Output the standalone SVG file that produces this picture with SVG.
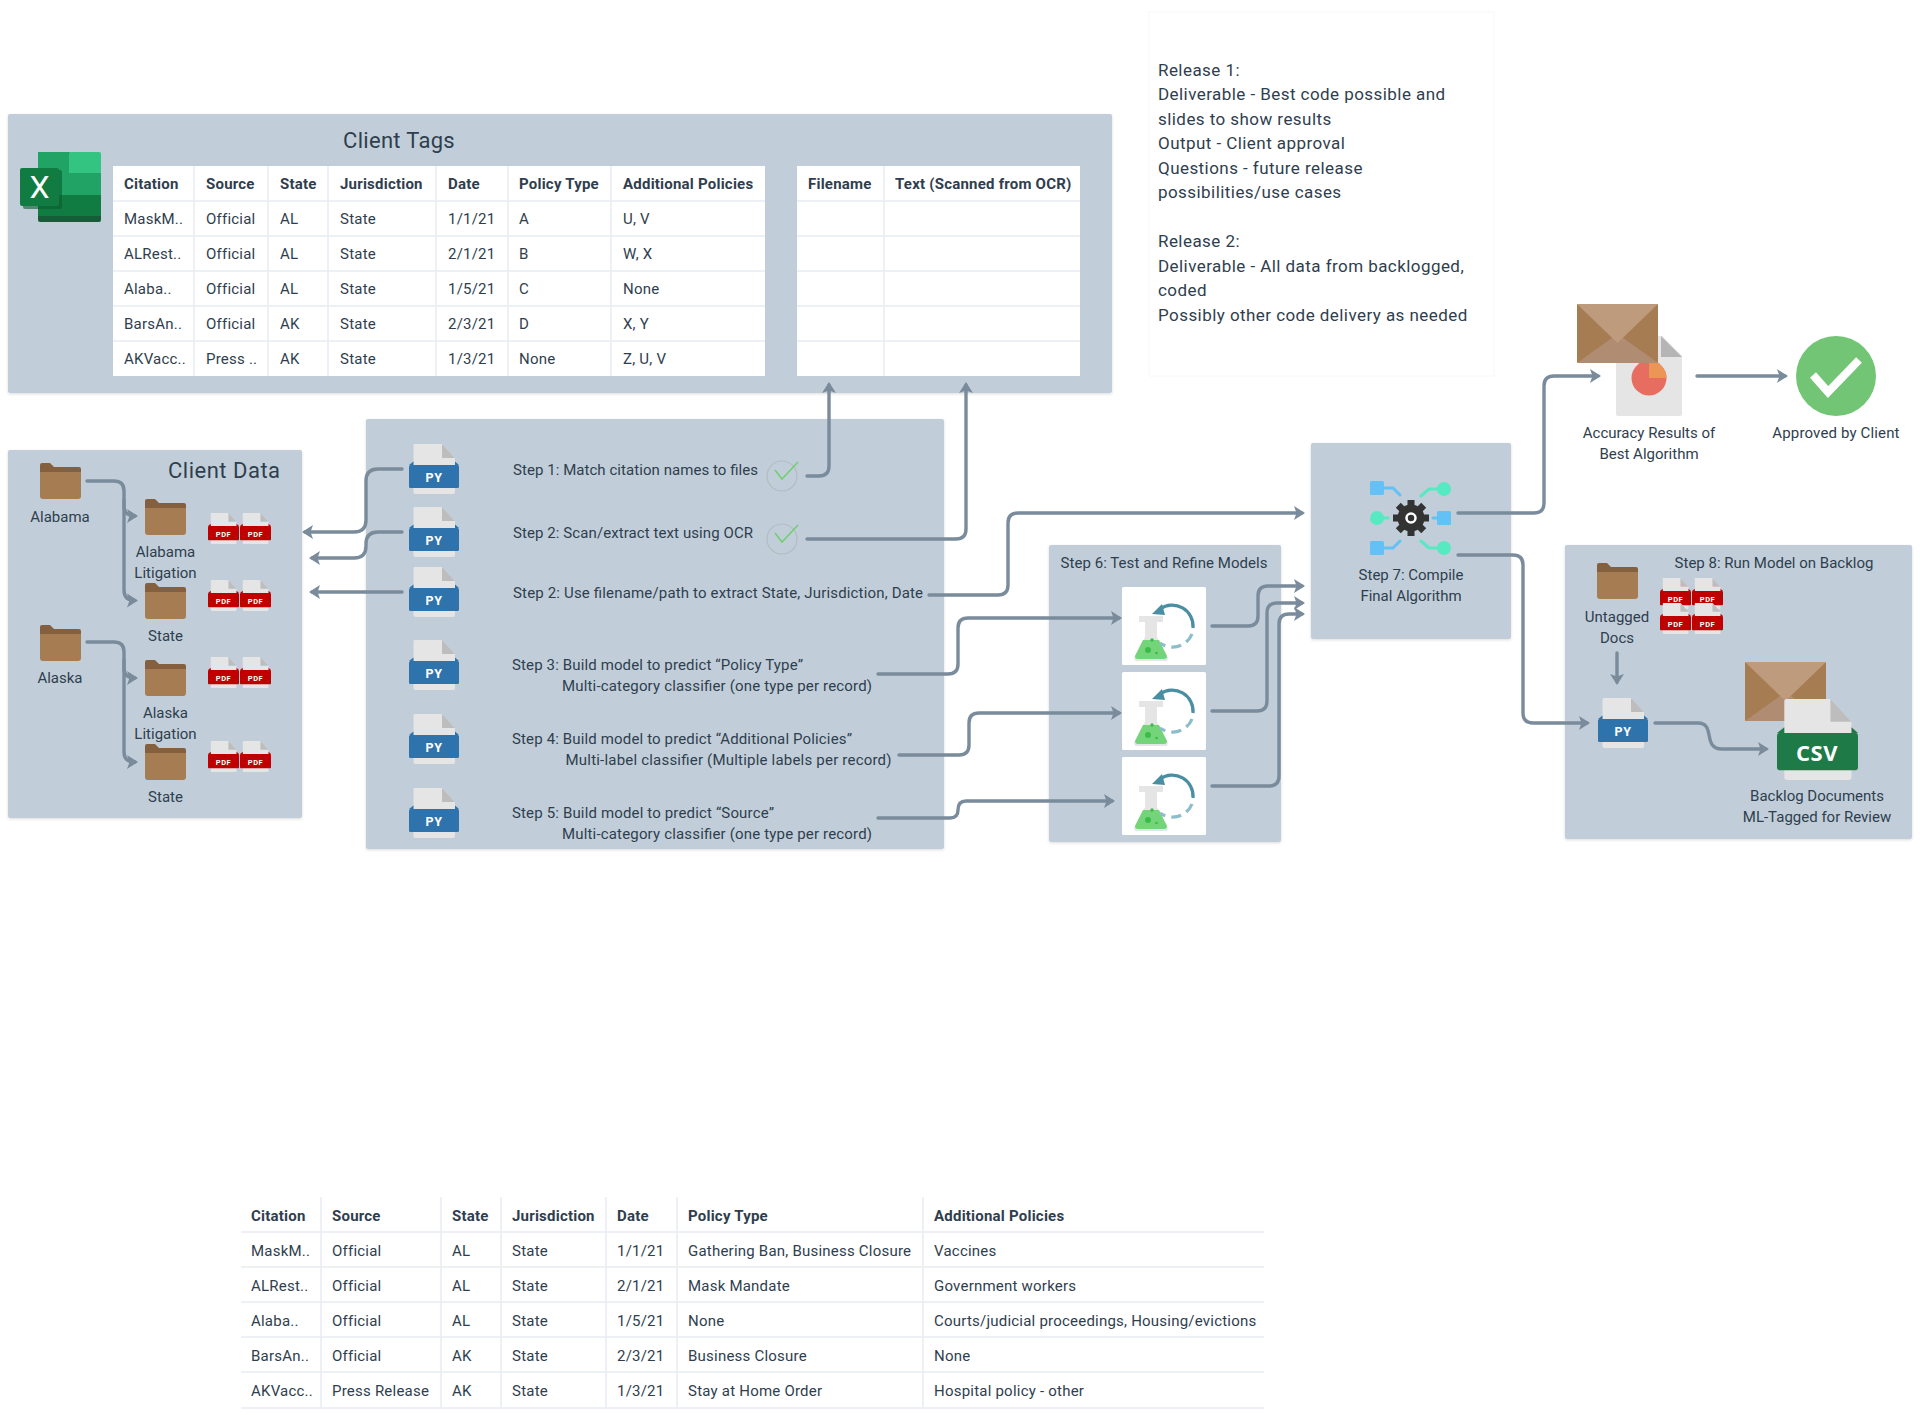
<svg xmlns="http://www.w3.org/2000/svg" width="1920" height="1415" viewBox="0 0 1920 1415">
<style>
text{font-family:"Roboto","Liberation Sans",sans-serif;font-size:15px;fill:#2f3e4e}
.tb text{letter-spacing:.22px}
.tb .b{font-weight:700}
.b{font-weight:700}
.c{text-anchor:middle}
.t{font-size:22px;letter-spacing:.3px}
.r{font-size:17px;letter-spacing:.44px}
.i{fill:#fff;font-weight:700;text-anchor:middle;letter-spacing:.5px}
.panel{fill:#c1ced9;filter:url(#sh)}
.grid{stroke:#e8edf2;stroke-width:1.5;fill:none}
.con{fill:none;stroke:#7a8b9b;stroke-width:3.4;stroke-linecap:round;stroke-linejoin:round}
.arr{marker-end:url(#ah)}
.py{color:#2f73ad}.pdf{color:#c00000}.csv{color:#1e7a47}
</style>
<defs>
<filter id="sh" x="-5%" y="-5%" width="110%" height="110%"><feDropShadow dx="0" dy="1" stdDeviation="1.5" flood-color="#000" flood-opacity=".14"/></filter>
<marker id="ah" markerUnits="userSpaceOnUse" markerWidth="13" markerHeight="16" refX="8" refY="8" orient="auto"><path d="M0 1 L11 8 L0 15 L2.500 8z" fill="#7a8b9b"/></marker>
<symbol id="doc" viewBox="0 0 50 50"><path d="M5.500 0H33L46 14V48a2 2 0 0 1-2 2H6.500a2 2 0 0 1-2-2V1z" fill="#e5e5e5"/><path d="M33 0L46 14H33z" fill="#bdbdbd"/><path d="M0 21L4.500 17.500V21zM50 21L46 17.500V21z" fill="currentColor"/><rect x="0" y="21" width="50" height="23" rx="1.500" fill="currentColor"/></symbol>
<symbol id="folder" viewBox="0 0 41 36"><path d="M0 2a2 2 0 0 1 2-2H10L14 4H39a2 2 0 0 1 2 2V12H0z" fill="#85603f"/><path d="M0 9H41V33a3 3 0 0 1-3 3H3a3 3 0 0 1-3-3z" fill="#a67c52"/></symbol>
<symbol id="env" viewBox="0 0 81 59"><rect width="81" height="59" rx="1" fill="#a67c52"/><path d="M0 59L40.500 30L81 59z" fill="#b08d72"/><path d="M0 0H81L40.500 39z" fill="#bf9b7d"/></symbol>
<symbol id="lab" viewBox="0 0 84 78"><rect width="84" height="78" rx="1.500" fill="#fff"/>
<path d="M17 29H41V35H35V50L45 69a3 3 0 0 1-3 5H16a3 3 0 0 1-3-5L23 50V35H17z" fill="#e5e5e5"/>
<path d="M21 53H37L45 69a3 3 0 0 1-3 3H16a3 3 0 0 1-3-3z" fill="#74d47a"/>
<circle cx="30" cy="53" r="1.700" fill="#3dbb4a"/><circle cx="26" cy="63" r="3" fill="#3dbb4a"/><circle cx="34.500" cy="66" r="1.300" fill="#3dbb4a"/>
<path d="M38 22A21 21 0 0 1 71 41" fill="none" stroke="#4a8ea3" stroke-width="3.200"/><path d="M30 27L40 17L43 28z" fill="#4a8ea3"/>
<path d="M70 47A21 21 0 0 1 38 56" fill="none" stroke="#8bbdcb" stroke-width="3.200" stroke-dasharray="10 6"/></symbol>
</defs>
<rect width="1920" height="1415" fill="#fff"/>

<g id="release"><rect x="1149" y="12" width="345" height="364" fill="#fff" stroke="#f7f8f9"/>
<text class="r" x="1158" y="76">Release 1:</text>
<text class="r" x="1158" y="100">Deliverable - Best code possible and</text>
<text class="r" x="1158" y="125">slides to show results</text>
<text class="r" x="1158" y="149">Output - Client approval</text>
<text class="r" x="1158" y="174">Questions - future release</text>
<text class="r" x="1158" y="198">possibilities/use cases</text>
<text class="r" x="1158" y="247">Release 2:</text>
<text class="r" x="1158" y="272">Deliverable - All data from backlogged,</text>
<text class="r" x="1158" y="296">coded</text>
<text class="r" x="1158" y="321">Possibly other code delivery as needed</text></g>

<g id="client-tags"><rect class="panel" x="8" y="114" width="1104" height="279" rx="2"/>
<text class="t c" x="399" y="148">Client Tags</text>
<g id="excel"><rect x="38" y="152" width="32" height="22" fill="#21a366"/><rect x="69" y="152" width="32" height="22" rx="2" fill="#33c481"/><rect x="38" y="173" width="63" height="22" fill="#21a366"/><rect x="38" y="195" width="63" height="22" fill="#107c41"/><path d="M38 216H101V220a2 2 0 0 1-2 2H40a2 2 0 0 1-2-2z" fill="#185c37"/><rect x="23" y="170" width="39" height="39" rx="2" fill="#0b5a30" opacity=".6"/><rect x="20" y="168" width="39" height="38" rx="2" fill="#107c41"/><text x="39.500" y="198" class="c" style="fill:#fff;font-size:32px">X</text></g>
<g id="tags-table" class="tb"><rect x="113" y="166" width="652" height="210" fill="#fff"/>
<path class="grid" d="M113 201H765M113 236H765M113 271H765M113 306H765M113 341H765M194 166V376M268 166V376M328 166V376M436 166V376M508 166V376M611 166V376"/>
<text class="b" x="124" y="189">Citation</text><text class="b" x="206" y="189">Source</text><text class="b" x="280" y="189">State</text><text class="b" x="340" y="189">Jurisdiction</text><text class="b" x="448" y="189">Date</text><text class="b" x="519" y="189">Policy Type</text><text class="b" x="623" y="189">Additional Policies</text>
<text x="124" y="224">MaskM..</text><text x="206" y="224">Official</text><text x="280" y="224">AL</text><text x="340" y="224">State</text><text x="448" y="224">1/1/21</text><text x="519" y="224">A</text><text x="623" y="224">U, V</text>
<text x="124" y="259">ALRest..</text><text x="206" y="259">Official</text><text x="280" y="259">AL</text><text x="340" y="259">State</text><text x="448" y="259">2/1/21</text><text x="519" y="259">B</text><text x="623" y="259">W, X</text>
<text x="124" y="294">Alaba..</text><text x="206" y="294">Official</text><text x="280" y="294">AL</text><text x="340" y="294">State</text><text x="448" y="294">1/5/21</text><text x="519" y="294">C</text><text x="623" y="294">None</text>
<text x="124" y="329">BarsAn..</text><text x="206" y="329">Official</text><text x="280" y="329">AK</text><text x="340" y="329">State</text><text x="448" y="329">2/3/21</text><text x="519" y="329">D</text><text x="623" y="329">X, Y</text>
<text x="124" y="364">AKVacc..</text><text x="206" y="364">Press ..</text><text x="280" y="364">AK</text><text x="340" y="364">State</text><text x="448" y="364">1/3/21</text><text x="519" y="364">None</text><text x="623" y="364">Z, U, V</text></g>
<g id="ocr-table" class="tb"><rect x="797" y="166" width="283" height="210" fill="#fff"/>
<path class="grid" d="M797 201H1080M797 236H1080M797 271H1080M797 306H1080M797 341H1080M884 166V376"/>
<text class="b" x="808" y="189">Filename</text><text class="b" x="895" y="189">Text (Scanned from OCR)</text></g></g>

<g id="client-data"><rect class="panel" x="8" y="450" width="294" height="368" rx="2"/>
<text class="t" x="168" y="478" style="letter-spacing:.5px">Client Data</text>
<use href="#folder" x="40" y="463" width="41" height="36"/><text class="c" x="60" y="522">Alabama</text>
<use href="#folder" x="145" y="499" width="41" height="36"/><text class="c" x="165.500" y="557">Alabama</text><text class="c" x="165.500" y="578">Litigation</text>
<use href="#folder" x="145" y="583" width="41" height="36"/><text class="c" x="165.500" y="641">State</text>
<use href="#folder" x="40" y="625" width="41" height="36"/><text class="c" x="60" y="683">Alaska</text>
<use href="#folder" x="145" y="660" width="41" height="36"/><text class="c" x="165.500" y="718">Alaska</text><text class="c" x="165.500" y="739">Litigation</text>
<use href="#folder" x="145" y="744" width="41" height="36"/><text class="c" x="165.500" y="802">State</text>
<g class="pdf">
<use href="#doc" x="208" y="513" width="31" height="31"/><use href="#doc" x="240" y="513" width="31" height="31"/>
<use href="#doc" x="208" y="580" width="31" height="31"/><use href="#doc" x="240" y="580" width="31" height="31"/>
<use href="#doc" x="208" y="657" width="31" height="31"/><use href="#doc" x="240" y="657" width="31" height="31"/>
<use href="#doc" x="208" y="741" width="31" height="31"/><use href="#doc" x="240" y="741" width="31" height="31"/></g>
<text class="i" style="font-size:7.500px" x="223.500" y="537">PDF</text><text class="i" style="font-size:7.500px" x="255.500" y="537">PDF</text><text class="i" style="font-size:7.500px" x="223.500" y="604">PDF</text><text class="i" style="font-size:7.500px" x="255.500" y="604">PDF</text><text class="i" style="font-size:7.500px" x="223.500" y="681">PDF</text><text class="i" style="font-size:7.500px" x="255.500" y="681">PDF</text><text class="i" style="font-size:7.500px" x="223.500" y="765">PDF</text><text class="i" style="font-size:7.500px" x="255.500" y="765">PDF</text></g>

<g id="steps"><rect class="panel" x="366" y="419" width="578" height="430" rx="2"/>
<g class="py">
<use href="#doc" x="409" y="444" width="50" height="50"/><use href="#doc" x="409" y="507" width="50" height="50"/><use href="#doc" x="409" y="567" width="50" height="50"/><use href="#doc" x="409" y="640" width="50" height="50"/><use href="#doc" x="409" y="714" width="50" height="50"/><use href="#doc" x="409" y="788" width="50" height="50"/></g>
<text class="i" style="font-size:12.500px" x="434" y="482">PY</text><text class="i" style="font-size:12.500px" x="434" y="545">PY</text><text class="i" style="font-size:12.500px" x="434" y="605">PY</text><text class="i" style="font-size:12.500px" x="434" y="678">PY</text><text class="i" style="font-size:12.500px" x="434" y="752">PY</text><text class="i" style="font-size:12.500px" x="434" y="826">PY</text>
<text x="513" y="475" textLength="245">Step 1: Match citation names to files</text>
<text x="513" y="538" textLength="240">Step 2: Scan/extract text using OCR</text>
<text x="513" y="598" textLength="410">Step 2: Use filename/path to extract State, Jurisdiction, Date</text>
<text x="512" y="670" textLength="291">Step 3: Build model to predict “Policy Type”</text>
<text x="562" y="691" textLength="310">Multi-category classifier (one type per record)</text>
<text x="512" y="744" textLength="340">Step 4: Build model to predict “Additional Policies”</text>
<text x="565.500" y="765" textLength="326">Multi-label classifier (Multiple labels per record)</text>
<text x="512" y="818" textLength="262">Step 5: Build model to predict “Source”</text>
<text x="562" y="839" textLength="310">Multi-category classifier (one type per record)</text>
<g fill="none"><circle cx="782" cy="476" r="15" stroke="#b3bbc1" stroke-width="1.200"/><path d="M775 470L782 479L798 462" stroke="#6fcf6f" stroke-width="1.500"/><circle cx="782" cy="539" r="15" stroke="#b3bbc1" stroke-width="1.200"/><path d="M775 533L782 542L798 525" stroke="#6fcf6f" stroke-width="1.500"/></g></g>

<g id="step6"><rect class="panel" x="1049" y="545" width="232" height="297" rx="2"/>
<text class="c" x="1164" y="568" textLength="207">Step 6: Test and Refine Models</text>
<use href="#lab" x="1122" y="587" width="84" height="78"/><use href="#lab" x="1122" y="672" width="84" height="78"/><use href="#lab" x="1122" y="757" width="84" height="78"/></g>

<g id="step7"><rect class="panel" x="1311" y="443" width="200" height="196" rx="2"/>
<g fill="none" stroke-width="3" stroke-linecap="round"><path d="M1384 488H1393L1400 495M1393 548L1400 541M1384 548H1393" stroke="#64c1f5"/><path d="M1433 518H1440" stroke="#64c1f5"/><path d="M1444 489H1429L1421 496M1444 548H1429L1421 541M1377 518H1388" stroke="#57e9c1"/></g>
<rect x="1370" y="481" width="14" height="14" rx="1.500" fill="#64c1f5"/><rect x="1370" y="541" width="14" height="14" rx="1.500" fill="#64c1f5"/><rect x="1437" y="511" width="14" height="14" rx="1.500" fill="#64c1f5"/>
<circle cx="1444" cy="489" r="7" fill="#57e9c1"/><circle cx="1377" cy="518" r="7" fill="#57e9c1"/><circle cx="1444" cy="548" r="7" fill="#57e9c1"/>
<g fill="#333"><circle cx="1411" cy="518" r="13.500"/><rect x="1407.500" y="500" width="7" height="36"/><rect x="1407.500" y="500" width="7" height="36" transform="rotate(45 1411 518)"/><rect x="1407.500" y="500" width="7" height="36" transform="rotate(90 1411 518)"/><rect x="1407.500" y="500" width="7" height="36" transform="rotate(135 1411 518)"/></g><circle cx="1411" cy="518" r="4.500" fill="none" stroke="#fff" stroke-width="2.500"/>
<text class="c" x="1411" y="580">Step 7: Compile</text><text class="c" x="1411" y="601">Final Algorithm</text></g>

<g id="accuracy"><rect x="1616" y="336" width="66" height="80" rx="2" fill="#e5e5e5"/><path d="M1661 335H1683V357z" fill="#fff"/><path d="M1661 336L1682 357H1661z" fill="#b5b5b5"/>
<circle cx="1649" cy="378" r="17.500" fill="#e86d61"/><path d="M1649 378V360.500A17.500 17.500 0 0 1 1666.500 378z" fill="#ec9556"/>
<use href="#env" x="1577" y="304" width="81" height="59"/>
<text class="c" x="1649" y="438">Accuracy Results of</text><text class="c" x="1649" y="459">Best Algorithm</text></g>

<g id="approved"><circle cx="1836" cy="376" r="40" fill="#71c574"/><path d="M1813 375L1828 392L1859 360" fill="none" stroke="#fff" stroke-width="8"/><text class="c" x="1836" y="438" style="letter-spacing:.15px">Approved by Client</text></g>

<g id="step8"><rect class="panel" x="1565" y="545" width="347" height="294" rx="2"/>
<text class="c" x="1774" y="568">Step 8: Run Model on Backlog</text>
<use href="#folder" x="1597" y="563" width="41" height="36"/><text class="c" x="1617" y="622">Untagged</text><text class="c" x="1617" y="643">Docs</text>
<g class="pdf"><use href="#doc" x="1660" y="578" width="31" height="31"/><use href="#doc" x="1692" y="578" width="31" height="31"/><use href="#doc" x="1660" y="603" width="31" height="31"/><use href="#doc" x="1692" y="603" width="31" height="31"/></g>
<text class="i" style="font-size:7.500px" x="1675.500" y="602">PDF</text><text class="i" style="font-size:7.500px" x="1707.500" y="602">PDF</text><text class="i" style="font-size:7.500px" x="1675.500" y="627">PDF</text><text class="i" style="font-size:7.500px" x="1707.500" y="627">PDF</text>
<use class="py" href="#doc" x="1598" y="698" width="50" height="50"/><text class="i" style="font-size:12.500px" x="1623" y="736">PY</text>
<use href="#env" x="1745" y="662" width="81" height="59"/>
<use class="csv" href="#doc" x="1777" y="699" width="81" height="81"/><text class="i" style="font-size:22px;font-family:'Open Sans',sans-serif" x="1817" y="761">CSV</text>
<text class="c" x="1817" y="801">Backlog Documents</text><text class="c" x="1817" y="822">ML-Tagged for Review</text></g>

<g id="lower-table" class="tb"><path class="grid" d="M241 1232H1264M241 1267H1264M241 1302H1264M241 1337H1264M241 1372H1264M241 1408H1264M321 1197V1408M441 1197V1408M501 1197V1408M606 1197V1408M677 1197V1408M923 1197V1408"/>
<text class="b" x="251" y="1221">Citation</text><text class="b" x="332" y="1221">Source</text><text class="b" x="452" y="1221">State</text><text class="b" x="512" y="1221">Jurisdiction</text><text class="b" x="617" y="1221">Date</text><text class="b" x="688" y="1221">Policy Type</text><text class="b" x="934" y="1221">Additional Policies</text>
<text x="251" y="1256">MaskM..</text><text x="332" y="1256">Official</text><text x="452" y="1256">AL</text><text x="512" y="1256">State</text><text x="617" y="1256">1/1/21</text><text x="688" y="1256">Gathering Ban, Business Closure</text><text x="934" y="1256">Vaccines</text>
<text x="251" y="1291">ALRest..</text><text x="332" y="1291">Official</text><text x="452" y="1291">AL</text><text x="512" y="1291">State</text><text x="617" y="1291">2/1/21</text><text x="688" y="1291">Mask Mandate</text><text x="934" y="1291">Government workers</text>
<text x="251" y="1326">Alaba..</text><text x="332" y="1326">Official</text><text x="452" y="1326">AL</text><text x="512" y="1326">State</text><text x="617" y="1326">1/5/21</text><text x="688" y="1326">None</text><text x="934" y="1326">Courts/judicial proceedings, Housing/evictions</text>
<text x="251" y="1361">BarsAn..</text><text x="332" y="1361">Official</text><text x="452" y="1361">AK</text><text x="512" y="1361">State</text><text x="617" y="1361">2/3/21</text><text x="688" y="1361">Business Closure</text><text x="934" y="1361">None</text>
<text x="251" y="1396">AKVacc..</text><text x="332" y="1396">Press Release</text><text x="452" y="1396">AK</text><text x="512" y="1396">State</text><text x="617" y="1396">1/3/21</text><text x="688" y="1396">Stay at Home Order</text><text x="934" y="1396">Hospital policy - other</text></g>

<g id="connectors">
<path class="con arr" d="M87 481H114Q124 481 124 491V506Q124 516 135 516"/>
<path class="con arr" d="M124 500V590Q124 600.500 135 600.500"/>
<path class="con arr" d="M87 642H114Q124 642 124 652V668Q124 678 135 678"/>
<path class="con arr" d="M124 660V752Q124 762 135 762"/>
<path class="con arr" d="M402 469H378Q366 469 366 481V520Q366 532 354 532H305"/>
<path class="con arr" d="M402 532H378Q366 532 366 544V546Q366 558 354 558H312"/>
<path class="con arr" d="M402 592H312"/>
<path class="con arr" d="M807 476H819Q829 476 829 466V385"/>
<path class="con arr" d="M807 539H956Q966 539 966 529V385"/>
<path class="con arr" d="M929 595H998Q1008 595 1008 585V523Q1008 513 1018 513H1302"/>
<path class="con arr" d="M878 674H948Q958 674 958 664V628Q958 618 968 618H1119"/>
<path class="con arr" d="M899 755H959Q969 755 969 745V723Q969 713 979 713H1119"/>
<path class="con arr" d="M878 818H950Q958 818 958 810Q958 801 966 801H1112"/>
<path class="con arr" d="M1212 626H1248Q1258 626 1258 616V596Q1258 586 1268 586H1302"/>
<path class="con arr" d="M1212 711H1257Q1267 711 1267 701V613Q1267 603 1277 603H1302"/>
<path class="con arr" d="M1212 786H1269Q1279 786 1279 776V624Q1279 614 1289 614H1302"/>
<path class="con arr" d="M1458 513H1534Q1544 513 1544 503V386Q1544 376 1554 376H1598"/>
<path class="con arr" d="M1458 555H1513Q1523 555 1523 565V713Q1523 723 1533 723H1587"/>
<path class="con arr" d="M1697 376H1785"/>
<path class="con arr" d="M1617 653V682"/>
<path class="con arr" d="M1655 723H1698C1716 723 1702 749 1722 749H1766"/>
</g>
</svg>
